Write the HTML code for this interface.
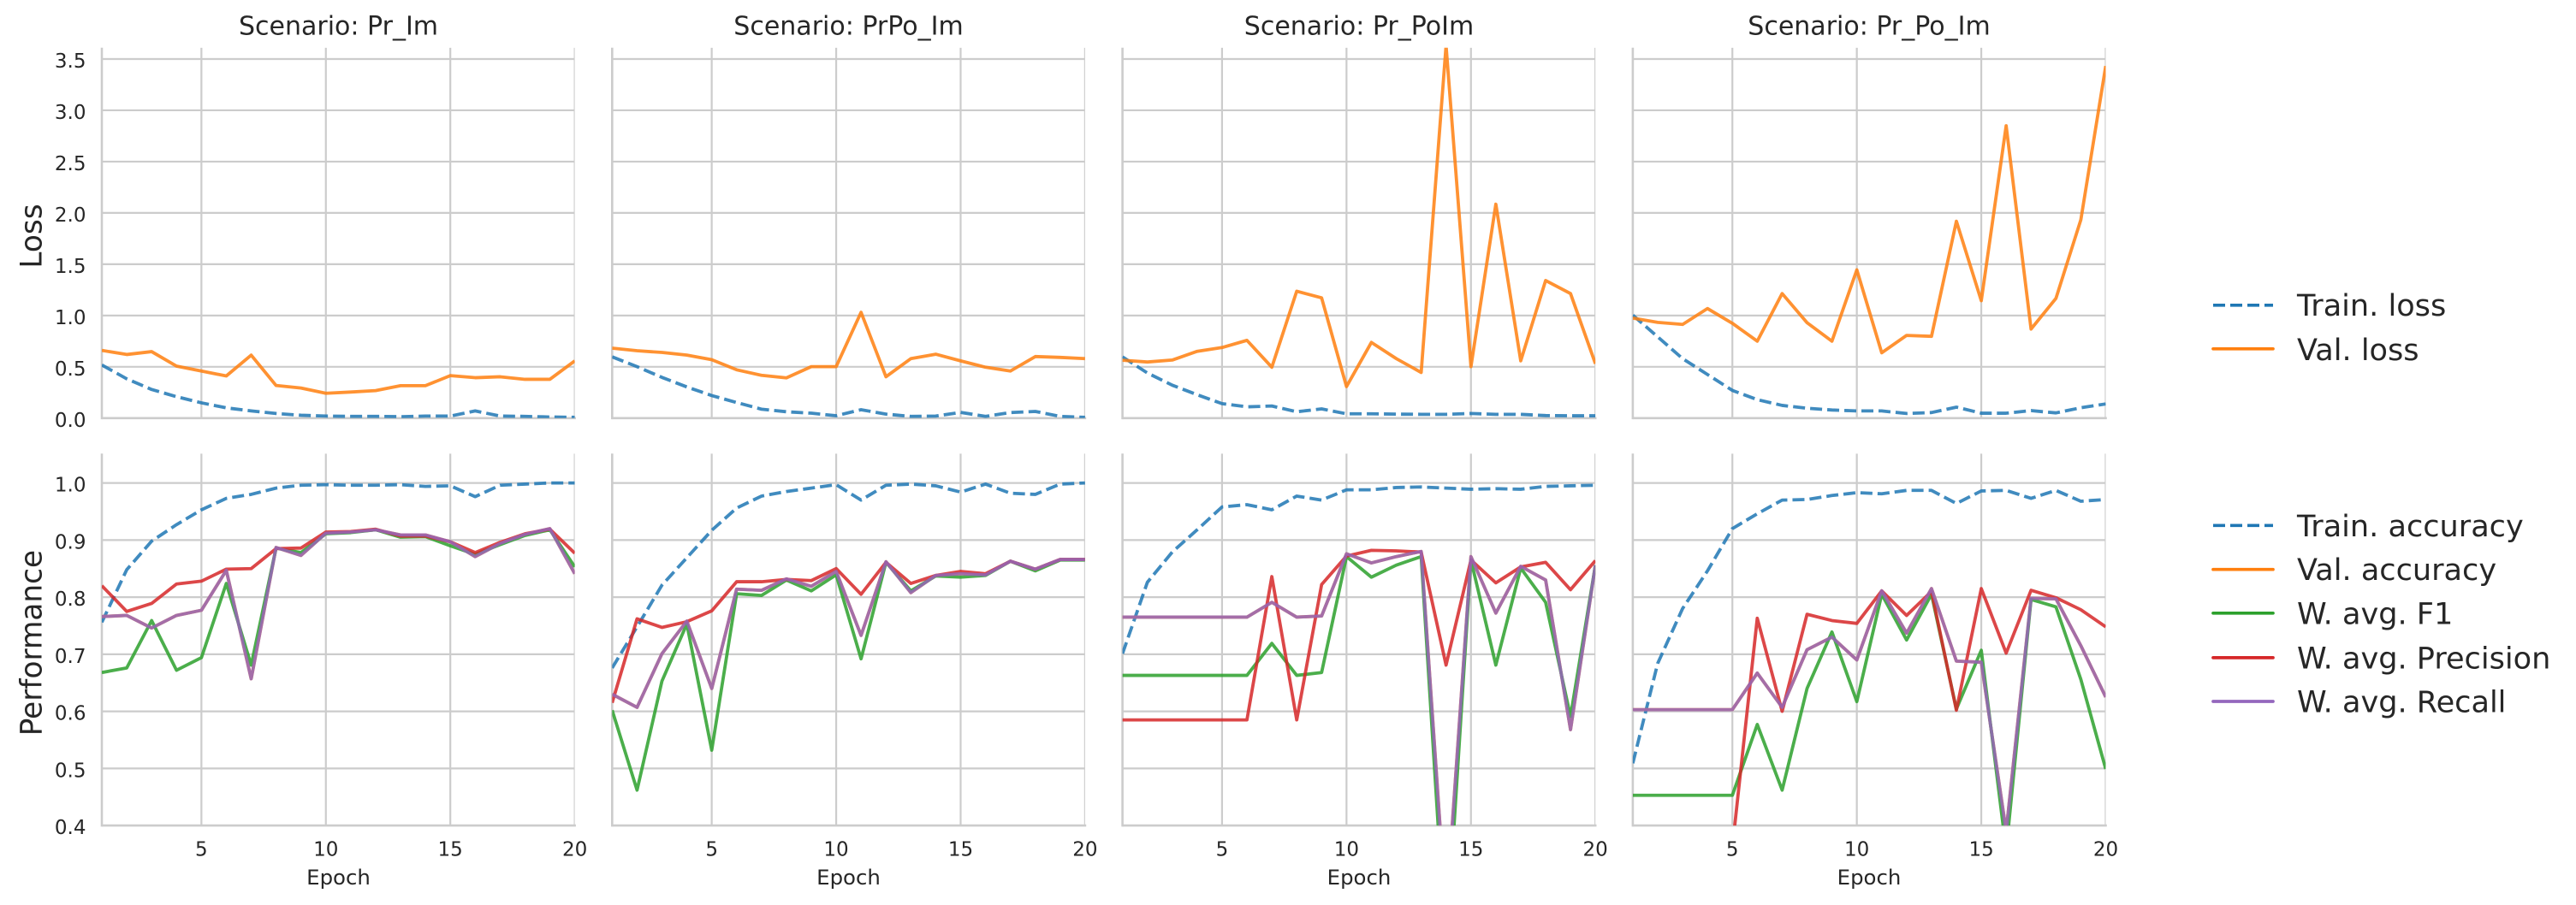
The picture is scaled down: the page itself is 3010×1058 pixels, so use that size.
<!DOCTYPE html>
<html lang="en">
<head>
<meta charset="utf-8">
<title>Training curves by scenario</title>
<style>
html,body{margin:0;padding:0;background:#fff;width:3010px;height:1058px;overflow:hidden}
svg{display:block}
text{font-family:"DejaVu Sans","Liberation Sans",sans-serif;fill:#262626}
.title{font-size:30px;text-anchor:middle}
.ylab{font-size:34.3px;text-anchor:middle}
.xlab{font-size:24.4px;text-anchor:middle}
.tick{font-size:23px}
.leg{font-size:35.1px}
</style>
</head>
<body>
<svg id="chart" xmlns="http://www.w3.org/2000/svg" width="3010" height="1058" viewBox="0 0 3010 1058">
  <rect width="3010" height="1058" fill="#ffffff"/>
  <g id="plots"></g>
  <g>
    <text class="title" x="395.5" y="40.6">Scenario: Pr_Im</text>
    <text class="title" x="991.5" y="40.6">Scenario: PrPo_Im</text>
    <text class="title" x="1588" y="40.6">Scenario: Pr_PoIm</text>
    <text class="title" x="2184" y="40.6">Scenario: Pr_Po_Im</text>
  </g>
  <text class="ylab" transform="translate(48.5,276) rotate(-90)">Loss</text>
  <text class="ylab" transform="translate(48.5,751.6) rotate(-90)">Performance</text>
  <g>
    <text class="xlab" x="395.5" y="1034">Epoch</text>
    <text class="xlab" x="991.5" y="1034">Epoch</text>
    <text class="xlab" x="1588" y="1034">Epoch</text>
    <text class="xlab" x="2184" y="1034">Epoch</text>
  </g>
  <g>
    <line x1="2586" x2="2656" y1="356.8" y2="356.8" stroke="#1f77b4" stroke-width="3.7" stroke-dasharray="14 6"/>
    <text class="leg" x="2684" y="369">Train. loss</text>
    <line x1="2586" x2="2656" y1="407.8" y2="407.8" stroke="#ff7f0e" stroke-width="3.7" stroke-linecap="round"/>
    <text class="leg" x="2684" y="420.8">Val. loss</text>
  </g>
  <g>
    <line x1="2586" x2="2656" y1="614.3" y2="614.3" stroke="#1f77b4" stroke-width="3.7" stroke-dasharray="14 6"/>
    <text class="leg" x="2684" y="626.8">Train. accuracy</text>
    <line x1="2586" x2="2656" y1="665.7" y2="665.7" stroke="#ff7f0e" stroke-width="3.7" stroke-linecap="round"/>
    <text class="leg" x="2684" y="678.2">Val. accuracy</text>
    <line x1="2586" x2="2656" y1="716.8" y2="716.8" stroke="#2ca02c" stroke-width="3.7" stroke-linecap="round"/>
    <text class="leg" x="2684" y="729.3">W. avg. F1</text>
    <line x1="2586" x2="2656" y1="768.9" y2="768.9" stroke="#d62728" stroke-width="3.7" stroke-linecap="round"/>
    <text class="leg" x="2684" y="781.4">W. avg. Precision</text>
    <line x1="2586" x2="2656" y1="820" y2="820" stroke="#9467bd" stroke-width="3.7" stroke-linecap="round"/>
    <text class="leg" x="2684" y="832.5">W. avg. Recall</text>
  </g>
</svg>
<script>
const epochs = [1,2,3,4,5,6,7,8,9,10,11,12,13,14,15,16,17,18,19,20];
const xTickValues = [5,10,15,20];
const xTickLabels = ["5","10","15","20"];
const lossTickValues = [0,0.5,1,1.5,2,2.5,3,3.5];
const lossTickLabels = ["0.0","0.5","1.0","1.5","2.0","2.5","3.0","3.5"];
const perfTickValues = [0.4,0.5,0.6,0.7,0.8,0.9,1];
const perfTickLabels = ["0.4","0.5","0.6","0.7","0.8","0.9","1.0"];

const prIm_trainLoss = [.518,.383,.279,.209,.149,.10,.07,.045,.028,.02,.017,.017,.014,.02,.02,.07,.02,.017,.011,.008];
const prIm_valLoss = [.66,.62,.648,.507,.459,.411,.614,.318,.293,.242,.254,.268,.316,.316,.414,.394,.403,.378,.378,.558];
const prIm_trainAcc = [.756,.848,.898,.927,.953,.973,.98,.991,.996,.997,.996,.996,.997,.994,.995,.976,.996,.998,1,1];
const prIm_valAcc = [.766,.768,.746,.768,.777,.847,.657,.887,.873,.912,.914,.918,.909,.909,.897,.871,.894,.91,.92,.841];
const prIm_f1 = [.668,.676,.759,.672,.694,.824,.681,.886,.878,.911,.913,.918,.905,.906,.89,.875,.892,.908,.918,.853];
const prIm_precision = [.82,.775,.789,.823,.828,.849,.85,.885,.886,.914,.915,.919,.907,.907,.897,.878,.896,.911,.919,.877];
const prIm_recall = [.766,.768,.746,.768,.777,.847,.657,.887,.873,.912,.914,.918,.909,.909,.897,.871,.894,.91,.92,.841];

const prPoIm_trainLoss = [.597,.502,.397,.304,.22,.152,.087,.062,.048,.023,.082,.039,.017,.02,.056,.017,.054,.065,.017,.008];
const prPoIm_valLoss = [.682,.657,.64,.614,.569,.471,.417,.392,.502,.502,1.031,.403,.58,.623,.558,.496,.459,.6,.592,.58];
const prPoIm_trainAcc = [.676,.748,.821,.869,.917,.956,.977,.985,.991,.997,.97,.996,.998,.995,.984,.998,.982,.98,.998,1];
const prPoIm_valAcc = [.63,.607,.701,.758,.64,.814,.812,.832,.819,.845,.733,.862,.808,.838,.841,.839,.863,.849,.866,.866];
const prPoIm_f1 = [.602,.462,.653,.753,.532,.806,.803,.83,.811,.839,.692,.861,.811,.837,.835,.838,.863,.846,.865,.865];
const prPoIm_precision = [.615,.762,.747,.757,.776,.827,.827,.831,.829,.85,.805,.861,.824,.838,.845,.841,.863,.849,.866,.866];
const prPoIm_recall = [.63,.607,.701,.758,.64,.814,.812,.832,.819,.845,.733,.862,.808,.838,.841,.839,.863,.849,.866,.866];

const prPolm_trainLoss = [.597,.44,.321,.228,.141,.11,.118,.062,.09,.042,.042,.039,.037,.037,.045,.037,.037,.025,.023,.023];
const prPolm_valLoss = [.564,.547,.566,.651,.688,.758,.496,1.237,1.172,.307,.738,.58,.445,3.63,.502,2.085,.558,1.341,1.214,.53];
const prPolm_trainAcc = [.701,.826,.879,.918,.958,.962,.953,.977,.97,.988,.988,.992,.993,.991,.989,.99,.989,.994,.995,.996];
const prPolm_valAcc = [.765,.765,.765,.765,.765,.765,.791,.765,.767,.876,.86,.871,.88,.245,.871,.772,.854,.83,.568,.856];
const prPolm_f1 = [.663,.663,.663,.663,.663,.663,.719,.663,.668,.871,.835,.856,.871,.18,.865,.681,.851,.791,.591,.856];
const prPolm_precision = [.585,.585,.585,.585,.585,.585,.836,.585,.822,.872,.882,.881,.879,.681,.865,.825,.853,.861,.813,.864];
const prPolm_recall = [.765,.765,.765,.765,.765,.765,.791,.765,.767,.876,.86,.871,.88,.245,.871,.772,.854,.83,.568,.856];

const prPoImSplit_trainLoss = [1.003,.792,.58,.425,.27,.18,.124,.096,.079,.07,.07,.045,.054,.107,.048,.048,.073,.051,.101,.138];
const prPoImSplit_valLoss = [.975,.933,.913,1.068,.924,.75,1.214,.93,.75,1.445,.637,.806,.797,1.919,1.144,2.849,.868,1.167,1.933,3.432];
const prPoImSplit_trainAcc = [.509,.684,.78,.846,.92,.946,.97,.971,.978,.983,.981,.987,.987,.964,.986,.987,.973,.987,.968,.971];
const prPoImSplit_valAcc = [.603,.603,.603,.603,.603,.667,.607,.708,.73,.69,.811,.737,.815,.688,.686,.39,.798,.797,.715,.625];
const prPoImSplit_f1 = [.453,.453,.453,.453,.453,.577,.462,.64,.739,.617,.805,.725,.805,.604,.707,.357,.796,.783,.656,.499];
const prPoImSplit_precision = [.362,.362,.362,.362,.362,.763,.6,.77,.759,.754,.811,.768,.81,.602,.815,.702,.812,.799,.778,.748];
const prPoImSplit_recall = [.603,.603,.603,.603,.603,.667,.607,.708,.73,.69,.811,.737,.815,.688,.686,.39,.798,.797,.715,.625];

const scenarioKeys = ["pr-im","prpo-im","pr-poim","pr-po-im"];
const lossSeries = [
  [prIm_trainLoss, prIm_valLoss],
  [prPoIm_trainLoss, prPoIm_valLoss],
  [prPolm_trainLoss, prPolm_valLoss],
  [prPoImSplit_trainLoss, prPoImSplit_valLoss]
];
const perfSeries = [
  [prIm_trainAcc, prIm_valAcc, prIm_f1, prIm_precision, prIm_recall],
  [prPoIm_trainAcc, prPoIm_valAcc, prPoIm_f1, prPoIm_precision, prPoIm_recall],
  [prPolm_trainAcc, prPolm_valAcc, prPolm_f1, prPolm_precision, prPolm_recall],
  [prPoImSplit_trainAcc, prPoImSplit_valAcc, prPoImSplit_f1, prPoImSplit_precision, prPoImSplit_recall]
];
const lossNames = ["train-loss","val-loss"];
const perfNames = ["train-accuracy","val-accuracy","f1","precision","recall"];
const lossColors = ["#1f77b4","#ff7f0e"];
const perfColors = ["#1f77b4","#ff7f0e","#2ca02c","#d62728","#9467bd"];

const NS = "http://www.w3.org/2000/svg";
const plots = document.getElementById("plots");
const AX_W = 552.6, AX_STEP = 596.3, AX_LEFT = 119;
const LOSS_TOP = 55.8, LOSS_BOTTOM = 488.8, LOSS_PER_UNIT = 119.95;
const PERF_TOP = 530.3, PERF_BOTTOM = 965.1, PERF_PER_UNIT = 667.5;

function panelLeft(p){ return AX_LEFT + p * AX_STEP; }
function xScale(p, e){ return panelLeft(p) + (e - 1) / 19 * AX_W; }
function yLoss(v){ return LOSS_BOTTOM - v * LOSS_PER_UNIT; }
function yPerf(v){ return PERF_BOTTOM - (v - 0.4) * PERF_PER_UNIT; }

function make(tag, parent, attrs){
  const el = document.createElementNS(NS, tag);
  for (const k in attrs) el.setAttribute(k, attrs[k]);
  parent.appendChild(el);
  return el;
}

/* Builds a path from the scaled points, cutting segments at the axes floor so
   nothing below the visible plot area extends past the figure. */
function pathFrom(pts, floorY){
  let d = "";
  for (let i = 0; i < pts.length; i++) {
    const a = pts[i];
    if (i === 0) {
      if (a[1] <= floorY) { d += "M" + a[0].toFixed(2) + " " + a[1].toFixed(2); }
      continue;
    }
    const b = pts[i - 1];
    const aIn = a[1] <= floorY, bIn = b[1] <= floorY;
    if (aIn && bIn) {
      d += "L" + a[0].toFixed(2) + " " + a[1].toFixed(2);
    } else if (aIn !== bIn) {
      const t = (floorY - b[1]) / (a[1] - b[1]);
      const cx = b[0] + t * (a[0] - b[0]);
      if (bIn) {
        d += "L" + cx.toFixed(2) + " " + floorY.toFixed(2);
      } else {
        d += "M" + cx.toFixed(2) + " " + floorY.toFixed(2) + "L" + a[0].toFixed(2) + " " + a[1].toFixed(2);
      }
    }
  }
  return d;
}

function drawPanel(p, rowName, top, bottom, yFn, yVals, yLabels, series, names, colors, showX){
  const left = panelLeft(p), right = left + AX_W;
  const g = make("g", plots, {});
  
  

  const clipId = "clip-" + rowName + "-" + p;
  const cp = make("clipPath", g, {id: clipId});
  make("rect", cp, {x: left, y: top, width: AX_W, height: bottom - top});

  yVals.forEach(function(v, i){
    const gl = make("line", g, {x1: left, x2: right, y1: yFn(v), y2: yFn(v), stroke: "#cccccc", "stroke-width": 2.2, "clip-path": "url(#" + clipId + ")"});
    
    
    if (p === 0) {
      const t = make("text", g, {class: "tick", x: 100.5, y: yFn(v) + 10, "text-anchor": "end"});
      t.textContent = yLabels[i];
      
      
    }
  });

  xTickValues.forEach(function(v, i){
    const gl = make("line", g, {x1: xScale(p, v), x2: xScale(p, v), y1: top, y2: bottom, stroke: "#cccccc", "stroke-width": 2.2, "clip-path": "url(#" + clipId + ")"});
    
    
    if (showX) {
      const t = make("text", g, {class: "tick", x: xScale(p, v), y: 1000.5, "text-anchor": "middle"});
      t.textContent = xTickLabels[i];
      
      
    }
  });

  const spL = make("line", g, {x1: left, x2: left, y1: top, y2: bottom + 1.3, stroke: "#cccccc", "stroke-width": 2.6});
  
  
  const spB = make("line", g, {x1: left, x2: right + 1.3, y1: bottom, y2: bottom, stroke: "#cccccc", "stroke-width": 2.6});
  
  

  series.forEach(function(values, s){
    const pts = values.map(function(v, i){ return [xScale(p, epochs[i]), yFn(v)]; });
    const attrs = {d: pathFrom(pts, bottom + 6), fill: "none", stroke: colors[s], "stroke-width": 3.8, "stroke-opacity": 0.85, "stroke-linejoin": "round", "clip-path": "url(#" + clipId + ")"};
    if (s === 0) attrs["stroke-dasharray"] = "14 6";
    const line = make("path", g, attrs);
    
    
  });
}

for (let p = 0; p < 4; p++) {
  drawPanel(p, "loss", LOSS_TOP, LOSS_BOTTOM, yLoss, lossTickValues, lossTickLabels, lossSeries[p], lossNames, lossColors, false);
  drawPanel(p, "performance", PERF_TOP, PERF_BOTTOM, yPerf, perfTickValues, perfTickLabels, perfSeries[p], perfNames, perfColors, true);
}
</script>
</body>
</html>
